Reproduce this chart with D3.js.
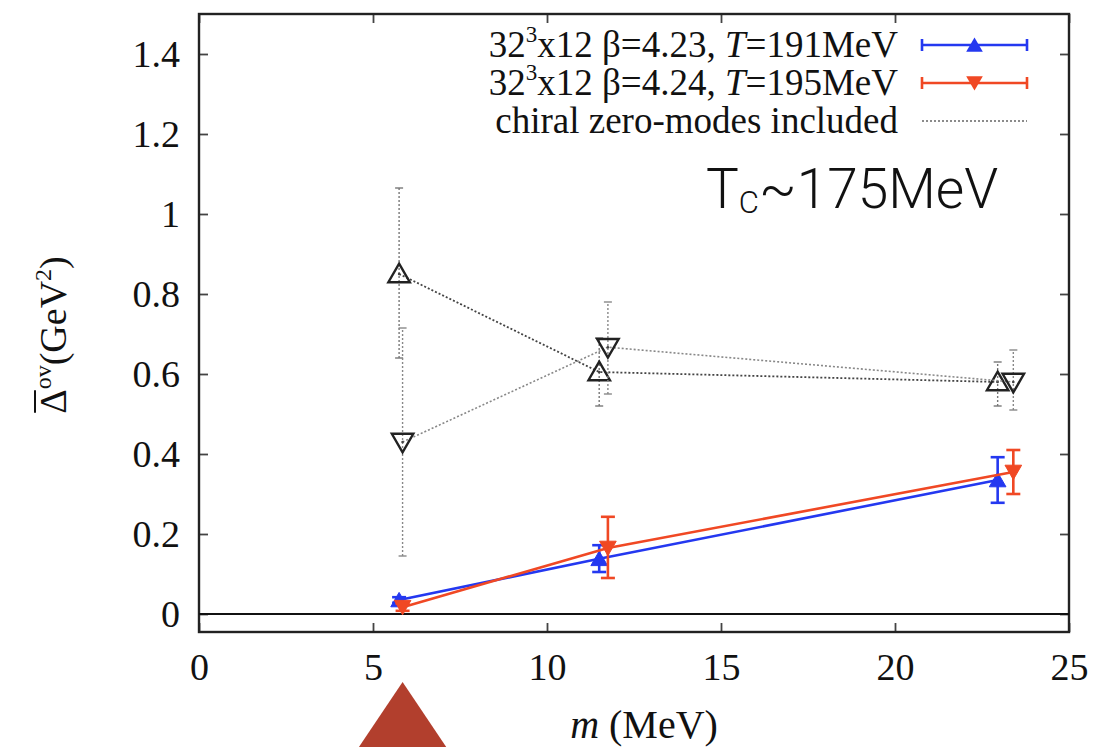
<!DOCTYPE html>
<html><head><meta charset="utf-8">
<script src="https://cdn.jsdelivr.net/npm/d3@7"></script>
<style>body{margin:0;background:#fff}svg{display:block}</style>
</head><body><svg id="chart" width="1104" height="747"></svg>
<script>
// Axis ticks
const xTicks = [0, 5, 10, 15, 20, 25];
const yTicks = [0, 0.2, 0.4, 0.6, 0.8, 1, 1.2, 1.4];
const yTickLabels = ["0", "0.2", "0.4", "0.6", "0.8", "1", "1.2", "1.4"];

// 32^3x12, beta=4.23, T=191MeV (up triangles)
const mass423 = [5.75, 11.5, 22.95];
const delta423 = [0.035, 0.138, 0.335];
const lo423 = [0.028, 0.105, 0.278];
const hi423 = [0.042, 0.172, 0.392];

// 32^3x12, beta=4.24, T=195MeV (down triangles)
const mass424 = [5.85, 11.75, 23.4];
const delta424 = [0.017, 0.165, 0.355];
const lo424 = [0.008, 0.09, 0.3];
const hi424 = [0.026, 0.243, 0.41];

// chiral zero-modes included
const zmMass423 = [5.75, 11.5, 22.95];
const zmDelta423 = [0.85, 0.605, 0.58];
const zmLo423 = [0.64, 0.52, 0.52];
const zmHi423 = [1.065, 0.69, 0.63];
const zmMass424 = [5.85, 11.75, 23.4];
const zmDelta424 = [0.43, 0.667, 0.58];
const zmLo424 = [0.145, 0.55, 0.51];
const zmHi424 = [0.715, 0.78, 0.66];

const legendLabels = ["β=4.23, ", "β=4.24, ", "chiral zero-modes included"];
const legendTemps = ["191MeV", "195MeV"];

const svg = d3.select("#chart");
const L = 199, R = 1069, T = 14, B = 632;
const x = d3.scaleLinear().domain([0, 25]).range([L, R]);
const y = d3.scaleLinear().domain([-0.045, 1.5]).range([B, T]);

const BLUE = "#2438f0", RED = "#f04824";
const serif = "'Liberation Serif','Times New Roman',serif";

// frame ticks (inward, on all four sides)
const gx = svg.append("g").attr("transform", `translate(0,${B})`)
  .call(d3.axisBottom(x).tickValues(xTicks).tickSizeInner(-9).tickSizeOuter(0).tickPadding(21));
const gy = svg.append("g").attr("transform", `translate(${L},0)`)
  .call(d3.axisLeft(y).tickValues(yTicks).tickFormat((d, i) => yTickLabels[i]).tickSizeInner(-9).tickSizeOuter(0).tickPadding(19));
const gxt = svg.append("g").attr("transform", `translate(0,${T})`)
  .call(d3.axisTop(x).tickValues(xTicks).tickSizeInner(-9).tickSizeOuter(0).tickFormat(""));
const gyr = svg.append("g").attr("transform", `translate(${R},0)`)
  .call(d3.axisRight(y).tickValues(yTicks).tickSizeInner(-9).tickSizeOuter(0).tickFormat(""));
[gx, gy, gxt, gyr].forEach(g => {
  g.select(".domain").remove();
  g.selectAll("line").attr("stroke", "#444").attr("stroke-width", 1.8);
  g.selectAll("text").attr("font-family", serif).attr("font-size", 38).attr("fill", "#111");
});

// frame
svg.append("rect").attr("x", L).attr("y", T).attr("width", R - L).attr("height", B - T)
  .attr("fill", "none").attr("stroke", "#222").attr("stroke-width", 2.4);
// zero line
svg.append("line").attr("x1", L).attr("x2", R).attr("y1", y(0)).attr("y2", y(0))
  .attr("stroke", "#111").attr("stroke-width", 2.2);

const tri = size => d3.symbol().type(d3.symbolTriangle).size(size)();

function series(ms, vs, los, his, color, up, opts) {
  const pts = ms.map((m, i) => ({m, v: vs[i], lo: los[i], hi: his[i]}));
  const g = svg.append("g");
  g.append("path").datum(pts)
    .attr("d", d3.line().x(d => x(d.m)).y(d => y(d.v)))
    .attr("fill", "none").attr("stroke", color).attr("stroke-width", opts.lw)
    .attr("stroke-dasharray", opts.dash || null);
  const eb = g.selectAll(".eb").data(pts).join("g");
  eb.append("line").attr("x1", d => x(d.m)).attr("x2", d => x(d.m))
    .attr("y1", d => y(d.lo)).attr("y2", d => y(d.hi))
    .attr("stroke", opts.ebColor || color).attr("stroke-width", opts.ebw)
    .attr("stroke-dasharray", opts.dash || null);
  [d => y(d.lo), d => y(d.hi)].forEach(f => {
    eb.append("line").attr("x1", d => x(d.m) - opts.cap).attr("x2", d => x(d.m) + opts.cap)
      .attr("y1", f).attr("y2", f)
      .attr("stroke", opts.ebColor || color).attr("stroke-width", opts.ebw);
  });
  g.selectAll(".pt").data(pts).join("path")
    .attr("d", tri(opts.size))
    .attr("transform", d => `translate(${x(d.m)},${y(d.v) + (up ? 2 : -2)}) rotate(${up ? 0 : 180})`)
    .attr("fill", opts.open ? "#fff" : color)
    .attr("fill-opacity", opts.open ? 0 : 1)
    .attr("stroke", opts.open ? "#222" : color)
    .attr("stroke-width", opts.open ? 2.4 : 1);
  if (opts.open) {
    g.selectAll(".dot").data(pts).join("circle")
      .attr("cx", d => x(d.m)).attr("cy", d => y(d.v)).attr("r", 1.3).attr("fill", "#444");
  }
}

// zero-mode series (dotted, open symbols)
series(zmMass423, zmDelta423, zmLo423, zmHi423, "#444", true,
  {lw: 1.8, dash: "2,2", ebw: 1.4, ebColor: "#777", cap: 4, size: 200, open: true});
series(zmMass424, zmDelta424, zmLo424, zmHi424, "#888", false,
  {lw: 1.6, dash: "2,2", ebw: 1.4, ebColor: "#888", cap: 4, size: 200, open: true});
// main series
series(mass423, delta423, lo423, hi423, BLUE, true, {lw: 2.6, ebw: 2.6, cap: 7, size: 120});
series(mass424, delta424, lo424, hi424, RED, false, {lw: 2.6, ebw: 2.6, cap: 7, size: 120});

// legend
const legX = 898, lx1 = 922, lx2 = 1027, rows = [45, 83, 121];
const lg = svg.append("g").attr("font-family", serif).attr("font-size", 37).attr("fill", "#111");
[0, 1].forEach(i => {
  const t = lg.append("text").attr("x", legX).attr("y", rows[i] + 12).attr("text-anchor", "end");
  t.append("tspan").text("32");
  t.append("tspan").text("3").attr("font-size", 23).attr("dy", -15);
  t.append("tspan").text("x12 " + legendLabels[i]).attr("dy", 15);
  t.append("tspan").text("T").attr("font-style", "italic");
  t.append("tspan").text("=" + legendTemps[i]);
  const c = i === 0 ? BLUE : RED;
  lg.append("line").attr("x1", lx1).attr("x2", lx2).attr("y1", rows[i]).attr("y2", rows[i])
    .attr("stroke", c).attr("stroke-width", 2.6);
  [lx1, lx2].forEach(xx => lg.append("line").attr("x1", xx).attr("x2", xx)
    .attr("y1", rows[i] - 6).attr("y2", rows[i] + 6).attr("stroke", c).attr("stroke-width", 2.6));
  lg.append("path").attr("d", tri(120))
    .attr("transform", `translate(${(lx1 + lx2) / 2},${rows[i] + (i === 0 ? 2 : -2)}) rotate(${i === 0 ? 0 : 180})`)
    .attr("fill", c);
});
lg.append("text").attr("x", legX).attr("y", rows[2] + 12).attr("text-anchor", "end").text(legendLabels[2]);
lg.append("line").attr("x1", lx1).attr("x2", lx2).attr("y1", rows[2]).attr("y2", rows[2])
  .attr("stroke", "#666").attr("stroke-width", 1.5).attr("stroke-dasharray", "2,2");

// annotation
const ann = svg.append("text").attr("x", 706).attr("y", 208)
  .attr("font-family", "Roboto,'Liberation Sans',Arial,sans-serif").attr("font-weight", 300)
  .attr("font-size", 55).attr("fill", "#111");
ann.append("tspan").text("T");
ann.append("tspan").text("C").attr("font-size", 31).attr("dy", 5);
ann.append("tspan").text("~175MeV").attr("dy", -5);

// y-axis title
const ytg = svg.append("g").attr("transform", "translate(66,335) rotate(-90)");
const yt = ytg.append("text").attr("text-anchor", "middle")
  .attr("font-family", serif).attr("font-size", 38).attr("fill", "#111");
yt.append("tspan").text("Δ");
yt.append("tspan").text("ov").attr("font-size", 24).attr("dy", -15);
yt.append("tspan").text("(GeV").attr("dy", 15);
yt.append("tspan").text("2").attr("font-size", 24).attr("dy", -15);
yt.append("tspan").text(")").attr("dy", 15);
const dBox = yt.node().getExtentOfChar(0);
ytg.append("line").attr("x1", dBox.x + 1).attr("x2", dBox.x + dBox.width - 1)
  .attr("y1", dBox.y + 3).attr("y2", dBox.y + 3).attr("stroke", "#111").attr("stroke-width", 2);

// x-axis title
const xt = svg.append("text").attr("x", 644).attr("y", 738).attr("text-anchor", "middle")
  .attr("font-family", serif).attr("font-size", 40).attr("fill", "#111");
xt.append("tspan").text("m").attr("font-style", "italic");
xt.append("tspan").text(" (MeV)");

// pointer marking the lightest mass
const arrowM = [5.85];
svg.selectAll(".pointer").data(arrowM).join("path")
  .attr("d", d => `M${x(d)},682 L${x(d) + 47},752 L${x(d) - 47},752 Z`)
  .attr("fill", "#b23f2d");
</script></body></html>
